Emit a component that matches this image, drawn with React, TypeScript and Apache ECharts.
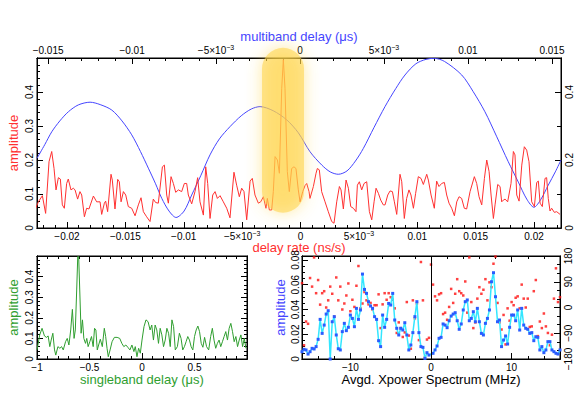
import React, { useEffect, useRef } from 'react';
import * as echarts from 'echarts';

// ---------- data ----------
// delay rate (ns/s) vs amplitude  (red, top panel)
const rateAmp: [number, number][] = [
  [-0.02274, 0.053], [-0.02245, 0.077], [-0.02211, 0.095], [-0.02183, 0.043], [-0.02154, 0.195], [-0.02131, 0.225],
  [-0.02111, 0.175], [-0.02094, 0.112], [-0.02074, 0.148], [-0.02057, 0.144], [-0.0204, 0.068], [-0.02023, 0.058],
  [-0.02003, 0.131], [-0.01989, 0.144], [-0.01966, 0.112], [-0.01946, 0.117], [-0.01931, 0.112], [-0.01909, 0.085],
  [-0.01889, 0.107], [-0.01874, 0.097], [-0.01851, 0.033], [-0.01832, 0.058], [-0.01812, 0.056], [-0.01774, 0.094],
  [-0.01746, 0.077], [-0.01717, 0.077], [-0.01703, 0.04], [-0.0168, 0.073], [-0.01669, 0.079], [-0.01652, 0.048],
  [-0.01623, 0.158], [-0.01612, 0.141], [-0.01589, 0.056], [-0.01566, 0.143], [-0.01552, 0.136], [-0.01537, 0.077],
  [-0.01517, 0.107], [-0.01497, 0.097], [-0.01475, 0.063], [-0.01446, 0.058], [-0.01417, 0.036], [-0.01389, 0.068],
  [-0.01366, 0.089], [-0.01346, 0.048], [-0.01318, 0.033], [-0.01289, 0.019], [-0.01261, 0.085], [-0.01241, 0.075],
  [-0.01218, 0.073], [-0.01183, 0.18], [-0.01166, 0.185], [-0.01146, 0.097], [-0.01132, 0.073], [-0.01109, 0.151],
  [-0.01089, 0.131], [-0.01069, 0.105], [-0.01046, 0.112], [-0.01018, 0.107], [-0.00995, 0.131], [-0.00975, 0.131],
  [-0.00961, 0.097], [-0.00932, 0.071], [-0.00904, 0.107], [-0.00881, 0.148], [-0.00861, 0.077], [-0.00832, 0.038],
  [-0.00812, 0.18], [-0.00795, 0.131], [-0.00775, 0.028], [-0.00752, 0.097], [-0.00732, 0.107], [-0.00712, 0.087],
  [-0.00689, 0.095], [-0.00661, 0.077], [-0.00632, 0.058], [-0.00604, 0.03], [-0.0057, 0.164], [-0.00547, 0.126],
  [-0.00524, 0.092], [-0.00504, 0.117], [-0.00484, 0.107], [-0.00461, 0.024], [-0.00432, 0.138], [-0.00413, 0.146],
  [-0.0039, 0.097], [-0.00361, 0.073], [-0.00341, 0.077], [-0.00318, 0.092], [-0.00296, 0.058], [-0.00284, 0.087],
  [-0.00267, 0.053], [-0.00247, 0.053], [-0.00233, 0.107], [-0.00218, 0.21], [-0.00198, 0.2], [-0.00181, 0.161],
  [-0.00161, 0.411], [-0.00147, 0.495], [-0.00133, 0.411], [-0.00113, 0.166], [-0.00096, 0.107], [-0.00076, 0.175],
  [-0.00056, 0.18], [-0.00039, 0.175], [-0.00019, 0.112], [-0.00004, 0.077], [0.00019, 0.107], [0.00039, 0.125],
  [0.00053, 0.131], [0.00073, 0.107], [0.00081, 0.087], [0.0011, 0.122], [0.00133, 0.161], [0.00144, 0.175],
  [0.00161, 0.171], [0.00181, 0.107], [0.0021, 0.077], [0.00238, 0.048], [0.00267, 0.019], [0.00287, 0.014],
  [0.0031, 0.077], [0.00333, 0.122], [0.00347, 0.112], [0.00367, 0.056], [0.0039, 0.141], [0.0041, 0.117],
  [0.0043, 0.063], [0.00453, 0.058], [0.00475, 0.048], [0.00487, 0.126], [0.00504, 0.136], [0.00524, 0.112],
  [0.00544, 0.131], [0.00567, 0.136], [0.0059, 0.048], [0.0061, 0.024], [0.0063, 0.077], [0.00647, 0.117],
  [0.00667, 0.102], [0.00687, 0.082], [0.00709, 0.068], [0.00724, 0.068], [0.00747, 0.097], [0.00767, 0.109],
  [0.00787, 0.107], [0.00804, 0.077], [0.00824, 0.04], [0.00852, 0.158], [0.00867, 0.136], [0.00889, 0.028],
  [0.00909, 0.087], [0.00929, 0.112], [0.00946, 0.097], [0.00967, 0.058], [0.00986, 0.102], [0.01009, 0.151],
  [0.01032, 0.146], [0.01052, 0.128], [0.01081, 0.158], [0.01095, 0.141], [0.01118, 0.097], [0.01146, 0.058],
  [0.01166, 0.138], [0.01186, 0.122], [0.01209, 0.131], [0.01232, 0.134], [0.01252, 0.097], [0.01272, 0.073],
  [0.01295, 0.058], [0.01318, 0.036], [0.01338, 0.077], [0.01358, 0.092], [0.0138, 0.087], [0.01403, 0.058],
  [0.01423, 0.056], [0.01452, 0.107], [0.01489, 0.151], [0.01509, 0.131], [0.01529, 0.092], [0.01552, 0.068],
  [0.01575, 0.146], [0.01595, 0.2], [0.01615, 0.166], [0.01632, 0.097], [0.01652, 0.028], [0.01666, 0.068],
  [0.01689, 0.128], [0.01709, 0.122], [0.01723, 0.077], [0.01737, 0.082], [0.01752, 0.085], [0.01774, 0.077],
  [0.01803, 0.131], [0.01823, 0.225], [0.01837, 0.215], [0.01852, 0.097], [0.01872, 0.079], [0.01895, 0.185],
  [0.01917, 0.239], [0.01937, 0.229], [0.01957, 0.195], [0.0198, 0.077], [0.02003, 0.063], [0.02023, 0.134],
  [0.02037, 0.138], [0.02052, 0.073], [0.02071, 0.063], [0.02094, 0.146], [0.02108, 0.148], [0.02122, 0.087],
  [0.02137, 0.05], [0.02151, 0.058], [0.02174, 0.046], [0.02194, 0.048], [0.02223, 0.04],
];

// multiband delay (µs) vs amplitude (blue, top panel)
const mbdAmp: [number, number][] = [
  [-0.01566, 0.205], [-0.0152, 0.245], [-0.01478, 0.283], [-0.0143, 0.315], [-0.01379, 0.342], [-0.0132, 0.362],
  [-0.0125, 0.37], [-0.0119, 0.363], [-0.01121, 0.347], [-0.0106, 0.315], [-0.01002, 0.274], [-0.0095, 0.225],
  [-0.00903, 0.176], [-0.0086, 0.13], [-0.00823, 0.087], [-0.0078, 0.05], [-0.00738, 0.031], [-0.0069, 0.05],
  [-0.00645, 0.097], [-0.0059, 0.155], [-0.00536, 0.215], [-0.0048, 0.262], [-0.00417, 0.298], [-0.0035, 0.33],
  [-0.0029, 0.35], [-0.00238, 0.357], [-0.0016, 0.345], [-0.00079, 0.318], [-0.0001, 0.28], [0.0006, 0.224],
  [0.0013, 0.185], [0.0018, 0.165], [0.00228, 0.158], [0.0028, 0.168], [0.0033, 0.197], [0.00377, 0.234],
  [0.0044, 0.295], [0.00506, 0.357], [0.0057, 0.41], [0.00625, 0.45], [0.0069, 0.483], [0.0075, 0.496],
  [0.00799, 0.499], [0.0086, 0.49], [0.00963, 0.45], [0.0103, 0.402], [0.01101, 0.342], [0.0117, 0.27],
  [0.0124, 0.195], [0.013, 0.135], [0.0135, 0.085], [0.01393, 0.061], [0.01435, 0.085], [0.01478, 0.126],
  [0.0152, 0.165], [0.01554, 0.2],
];

// singleband delay (µs) vs amplitude (green, lower left)
const sbdAmp: [number, number][] = [
  [-1.0, 0.044], [-0.974, 0.117], [-0.952, 0.149], [-0.929, 0.112], [-0.91, 0.105], [-0.894, 0.112], [-0.878, 0.06],
  [-0.865, 0.092], [-0.849, 0.125], [-0.833, 0.044], [-0.821, 0.019], [-0.801, 0.06], [-0.782, 0.052], [-0.766, 0.06],
  [-0.75, 0.044], [-0.728, 0.084], [-0.712, 0.1], [-0.696, 0.068], [-0.679, 0.141], [-0.663, 0.241], [-0.647, 0.1],
  [-0.635, 0.141], [-0.622, 0.335], [-0.612, 0.497], [-0.603, 0.497], [-0.593, 0.335], [-0.58, 0.125], [-0.567, 0.19],
  [-0.554, 0.1], [-0.538, 0.076], [-0.526, 0.1], [-0.513, 0.06], [-0.497, 0.084], [-0.481, 0.109], [-0.465, 0.06],
  [-0.452, 0.149], [-0.439, 0.141], [-0.426, 0.044], [-0.413, 0.068], [-0.397, 0.096], [-0.378, 0.06], [-0.359, 0.149],
  [-0.346, 0.109], [-0.333, 0.052], [-0.321, 0.011], [-0.304, 0.044], [-0.285, 0.084], [-0.263, 0.105], [-0.237, 0.105],
  [-0.212, 0.1], [-0.192, 0.076], [-0.173, 0.06], [-0.154, 0.068], [-0.135, 0.057], [-0.115, 0.044], [-0.096, 0.068],
  [-0.077, 0.036], [-0.064, 0.06], [-0.048, 0.011], [-0.032, 0.052], [-0.016, 0.028], [0.0, 0.092], [0.019, 0.157],
  [0.038, 0.19], [0.058, 0.181], [0.077, 0.141], [0.093, 0.165], [0.109, 0.092], [0.125, 0.165], [0.141, 0.141],
  [0.157, 0.076], [0.173, 0.149], [0.189, 0.117], [0.205, 0.06], [0.221, 0.092], [0.237, 0.149], [0.253, 0.125],
  [0.269, 0.06], [0.285, 0.19], [0.301, 0.157], [0.317, 0.044], [0.337, 0.06], [0.356, 0.125], [0.372, 0.1],
  [0.388, 0.044], [0.404, 0.06], [0.42, 0.084], [0.436, 0.109], [0.452, 0.092], [0.468, 0.06], [0.484, 0.044],
  [0.5, 0.109], [0.516, 0.141], [0.532, 0.16], [0.548, 0.133], [0.564, 0.076], [0.58, 0.057], [0.596, 0.105],
  [0.615, 0.06], [0.635, 0.044], [0.654, 0.109], [0.67, 0.149], [0.686, 0.092], [0.702, 0.052], [0.718, 0.076],
  [0.734, 0.092], [0.75, 0.06], [0.766, 0.084], [0.782, 0.109], [0.798, 0.133], [0.814, 0.092], [0.83, 0.149],
  [0.846, 0.173], [0.862, 0.133], [0.878, 0.084], [0.894, 0.109], [0.91, 0.06], [0.926, 0.092], [0.942, 0.117],
  [0.958, 0.06], [0.974, 0.1], [0.99, 0.052],
];

// averaged cross-power spectrum: frequency (MHz) vs amplitude (cyan/blue)
const specAmp: [number, number][] = [
  [-16.0, 0.0059], [-15.75, 0.0078], [-15.5, 0.0073], [-15.25, 0.004], [-15.0, 0.0059], [-14.75, 0.0086], [-14.5, 0.0081],
  [-14.25, 0.01], [-14.0, 0.0159], [-13.75, 0.032], [-13.5, 0.0207], [-13.25, 0.0274], [-13.0, 0.0363], [-12.75, 0.039],
  [-12.5, 0.0], [-12.25, 0.0301], [-12.0, 0.0342], [-11.75, 0.0194], [-11.5, 0.0083], [-11.25, 0.0073], [-11.0, 0.0221],
  [-10.75, 0.0288], [-10.5, 0.0229], [-10.25, 0.0256], [-10.0, 0.0355], [-9.75, 0.0328], [-9.5, 0.0261], [-9.25, 0.0409],
  [-9.0, 0.032], [-8.75, 0.0396], [-8.5, 0.0686], [-8.25, 0.0562], [-8.0, 0.053], [-7.75, 0.0463], [-7.5, 0.0428],
  [-7.25, 0.0409], [-7.0, 0.0342], [-6.75, 0.032], [-6.5, 0.0148], [-6.25, 0.01], [-6.0, 0.0355], [-5.75, 0.0256],
  [-5.5, 0.032], [-5.25, 0.0449], [-5.0, 0.0436], [-4.75, 0.053], [-4.5, 0.0315], [-4.25, 0.0248], [-4.0, 0.0194],
  [-3.75, 0.0248], [-3.5, 0.0234], [-3.25, 0.0293], [-3.0, 0.0194], [-2.75, 0.0073], [-2.5, 0.0113], [-2.25, 0.0213],
  [-2.0, 0.0342], [-1.75, 0.0463], [-1.5, 0.0213], [-1.25, 0.01], [-1.0, 0.0094], [-0.75, 0.0005], [-0.5, 0.0051],
  [-0.25, 0.0032],
  [0.25, 0.0046], [0.5, 0.0073], [0.75, 0.0105], [1.0, 0.0167], [1.25, 0.0175], [1.5, 0.0283], [1.75, 0.0274],
  [2.0, 0.0253], [2.25, 0.0309], [2.5, 0.0347], [2.75, 0.0363], [3.0, 0.0374], [3.25, 0.0309], [3.5, 0.024],
  [3.75, 0.0283], [4.0, 0.0396], [4.25, 0.0463], [4.5, 0.0477], [4.75, 0.0309], [5.0, 0.0328], [5.25, 0.0382],
  [5.5, 0.0301], [5.75, 0.0409], [6.0, 0.0301], [6.25, 0.0207], [6.5, 0.0194], [6.75, 0.0288], [7.0, 0.0328],
  [7.25, 0.0396], [7.5, 0.0624], [7.75, 0.0697], [8.0, 0.0503], [8.25, 0.0301], [8.5, 0.0315], [8.75, 0.01],
  [9.0, 0.0153], [9.25, 0.0186], [9.5, 0.0121], [9.75, 0.0256], [10.0, 0.0355], [10.25, 0.0355], [10.5, 0.0309],
  [10.75, 0.0396], [11.0, 0.0234], [11.25, 0.0409], [11.5, 0.0274], [11.75, 0.0248], [12.0, 0.024], [12.25, 0.0207],
  [12.5, 0.0213], [12.75, 0.0148], [13.0, 0.018], [13.25, 0.0175], [13.5, 0.0073], [13.75, 0.01], [14.0, 0.0051],
  [14.25, 0.0073], [14.5, 0.014], [14.75, 0.014], [15.0, 0.0073], [15.25, 0.0059], [15.5, 0.0046], [15.75, 0.004],
  [16.0, 0.0073],
];

// cross-power phase (degrees), red dots
const specPhase: [number, number][] = [
  [-16.0, 85], [-15.75, -132], [-15.5, -49], [-15.25, -57], [-15.0, 103], [-14.75, 73], [-14.5, 175], [-14.25, 50],
  [-14.0, 96], [-13.75, 10], [-13.5, 50], [-13.25, 57], [-13.0, 0], [-12.75, 25], [-12.5, 73], [-12.25, 48],
  [-12.0, -32], [-11.75, 105], [-11.5, 25], [-11.25, 73], [-11.0, -7], [-10.75, 14], [-10.5, 42], [-10.25, 84],
  [-10.0, -13], [-9.75, 27], [-9.5, 2], [-9.25, 76], [-9.0, 145], [-8.75, -3], [-8.5, 14], [-8.25, 54], [-8.0, 25],
  [-7.75, 11], [-7.5, 16], [-7.25, -7], [-7.0, 8], [-6.75, 8], [-6.5, 46], [-6.25, -72], [-6.0, 11], [-5.75, 50],
  [-5.5, 27], [-5.25, 50], [-5.0, 36], [-4.75, 27], [-4.5, -3], [-4.25, -89], [-4.0, -52], [-3.75, -72], [-3.5, -103],
  [-3.25, -87], [-3.0, 19], [-2.75, -98], [-2.5, -144], [-2.25, 25], [-2.0, -38], [-1.75, 14], [-1.5, -114],
  [-1.25, 159], [-1.0, 25], [-0.75, -174], [-0.5, -112], [-0.25, -106], [0.0, 150],
  [0.25, 80], [0.5, 39], [0.75, 25], [1.0, 46], [1.25, 50], [1.5, -23], [1.75, -18], [2.0, -43], [2.25, 2], [2.5, 65],
  [2.75, 16], [3.0, 48], [3.25, 99], [3.5, 57], [3.75, 50], [4.0, 42], [4.25, 91], [4.5, -18], [4.75, 175], [5.0, 19],
  [5.25, -72], [5.5, -52], [5.75, 31], [6.0, 71], [6.25, 48], [6.5, 62], [6.75, 99], [7.0, 25], [7.25, 88], [7.5, 71],
  [7.75, 153], [8.0, 178], [8.25, 16], [8.5, -52], [8.75, -77], [9.0, -26], [9.25, -129], [9.5, -3], [9.75, -46],
  [10.0, 19], [10.25, 8], [10.5, 34], [10.75, 39], [11.0, -3], [11.25, 80], [11.5, 31], [11.75, 0], [12.0, 31],
  [12.25, -68], [12.5, -66], [12.75, 57], [13.0, 96], [13.25, -100], [13.5, -49], [13.75, -72], [14.0, -21],
  [14.25, -66], [14.5, -89], [14.75, -132], [15.0, -95], [15.25, 31], [15.5, 137], [15.75, 19], [16.0, 36],
];

// axis ranges
const RATE_RANGE = [-0.02257, 0.02231];
const MBD_RANGE = [-0.01566, 0.01554];
const AMP_RANGE = [0, 0.5];
const SBD_RANGE = [-1, 1];
const FREQ_RANGE = [-16, 16];
const SPEC_AMP_RANGE = [0, 0.0832];
const PHASE_RANGE = [-180, 180];
// highlighted region around the fringe peak (delay rate, amplitude)
const HIGHLIGHT_RATE = [-0.0033, 0.0003];
const HIGHLIGHT_AMP = [0.045, 0.53];

// ---------- styling ----------
const FONT = 'Liberation Sans, Arial, Helvetica, sans-serif';
const RED = '#ff3030';
const BLUE = '#4545ff';
const GREEN = '#2f9e2f';
const CYAN = '#33e6ff';
const MARK_BLUE = '#2a5cff';

const MINUS = '\u2212';

function plainFmt(step: number, decimals: number) {
  return (v: number) => {
    const k = v / step;
    if (Math.abs(k - Math.round(k)) > 1e-6) return '';
    const n = Math.round(k) * step;
    let s = Math.abs(n).toFixed(decimals);
    if (decimals > 0) s = s.replace(/0+$/, '').replace(/\.$/, '');
    if (Math.abs(n) < 1e-12) s = '0';
    return (n < -1e-12 ? MINUS : '') + s;
  };
}

function sciFmt(v: number) {
  const k = v / 0.005;
  if (Math.abs(k - Math.round(k)) > 1e-6) return '';
  const n = Math.round(k);
  if (n === 0) return '{m|0}';
  const sign = n < 0 ? MINUS : '';
  if (Math.abs(n) === 1) return `{m|${sign}5×10}{s|${MINUS}3}`;
  return `{m|${sign}${String(+(Math.abs(n) * 0.005).toFixed(3))}}`;
}

const sciRich = {
  m: { fontSize: 10, fontFamily: FONT, color: '#000', lineHeight: 12 },
  s: { fontSize: 7, fontFamily: FONT, color: '#000', lineHeight: 5, verticalAlign: 'top' },
};

type AxOpt = {
  grid: number; pos: string; range: number[]; step: number; len: number;
  label?: any; name?: string; nameColor?: string; nameGap?: number;
};

function ax(o: AxOpt): any {
  const a: any = {
    type: 'value', gridIndex: o.grid, position: o.pos, min: o.range[0], max: o.range[1],
    minInterval: o.step, maxInterval: o.step,
    splitNumber: Math.max(1, Math.round((o.range[1] - o.range[0]) / o.step)),
    axisLine: { show: true, onZero: false, lineStyle: { color: '#000', width: 1 } },
    axisTick: { show: true, inside: true, length: o.len, lineStyle: { color: '#000', width: 1 } },
    minorTick: { show: false },
    splitLine: { show: false },
    splitArea: { show: false },
    axisLabel: o.label
      ? { show: true, color: '#000', fontSize: 10, fontFamily: FONT, margin: 3, hideOverlap: false, ...o.label }
      : { show: false },
    silent: true,
    nameMoveOverlap: false,
  };
  if (o.name) {
    a.name = o.name;
    a.nameLocation = 'middle';
    a.nameGap = o.nameGap;
    a.nameTextStyle = { color: o.nameColor, fontSize: 13, fontFamily: FONT };
  }
  return a;
}

const xAxes = [
  // grid 0 (top panel)
  ax({ grid: 0, pos: 'bottom', range: RATE_RANGE, step: 0.005, len: 6,
    label: { formatter: sciFmt, rich: sciRich, margin: 2 },
    name: 'delay rate (ns/s)', nameColor: RED, nameGap: 13 }),
  ax({ grid: 0, pos: 'bottom', range: RATE_RANGE, step: 0.001, len: 3 }),
  ax({ grid: 0, pos: 'top', range: MBD_RANGE, step: 0.005, len: 6,
    label: { formatter: sciFmt, rich: sciRich, margin: 2 },
    name: 'multiband delay (μs)', nameColor: BLUE, nameGap: 15 }),
  ax({ grid: 0, pos: 'top', range: MBD_RANGE, step: 0.001, len: 3 }),
  // grid 1 (lower left)
  ax({ grid: 1, pos: 'bottom', range: SBD_RANGE, step: 0.5, len: 6,
    label: { formatter: plainFmt(0.5, 1), showMaxLabel: false },
    name: 'singleband delay (μs)', nameColor: GREEN, nameGap: 14 }),
  ax({ grid: 1, pos: 'bottom', range: SBD_RANGE, step: 0.1, len: 3 }),
  ax({ grid: 1, pos: 'top', range: SBD_RANGE, step: 0.5, len: 6 }),
  ax({ grid: 1, pos: 'top', range: SBD_RANGE, step: 0.1, len: 3 }),
  // grid 2 (lower right)
  ax({ grid: 2, pos: 'bottom', range: FREQ_RANGE, step: 10, len: 6,
    label: { formatter: plainFmt(10, 0) },
    name: 'Avgd. Xpower Spectrum (MHz)', nameColor: '#000', nameGap: 14 }),
  ax({ grid: 2, pos: 'bottom', range: FREQ_RANGE, step: 2, len: 3 }),
  ax({ grid: 2, pos: 'top', range: FREQ_RANGE, step: 10, len: 6 }),
  ax({ grid: 2, pos: 'top', range: FREQ_RANGE, step: 2, len: 3 }),
];

const yAxes = [
  // grid 0
  ax({ grid: 0, pos: 'left', range: AMP_RANGE, step: 0.1, len: 6,
    label: { formatter: plainFmt(0.1, 1), rotate: 90, showMaxLabel: false },
    name: 'amplitude', nameColor: RED, nameGap: 17 }),
  ax({ grid: 0, pos: 'left', range: AMP_RANGE, step: 0.02, len: 3 }),
  ax({ grid: 0, pos: 'right', range: AMP_RANGE, step: 0.2, len: 6,
    label: { formatter: plainFmt(0.2, 1), rotate: 90 } }),
  ax({ grid: 0, pos: 'right', range: AMP_RANGE, step: 0.1, len: 4 }),
  // grid 1
  ax({ grid: 1, pos: 'left', range: AMP_RANGE, step: 0.1, len: 6,
    label: { formatter: plainFmt(0.1, 1), rotate: 90, showMaxLabel: false },
    name: 'amplitude', nameColor: GREEN, nameGap: 17 }),
  ax({ grid: 1, pos: 'left', range: AMP_RANGE, step: 0.02, len: 3 }),
  ax({ grid: 1, pos: 'right', range: AMP_RANGE, step: 0.1, len: 6 }),
  ax({ grid: 1, pos: 'right', range: AMP_RANGE, step: 0.02, len: 3 }),
  // grid 2
  ax({ grid: 2, pos: 'left', range: SPEC_AMP_RANGE, step: 0.02, len: 6,
    label: { formatter: plainFmt(0.02, 2), rotate: 90, margin: 2 },
    name: 'amplitude', nameColor: BLUE, nameGap: 15 }),
  ax({ grid: 2, pos: 'left', range: SPEC_AMP_RANGE, step: 0.005, len: 3 }),
  ax({ grid: 2, pos: 'right', range: PHASE_RANGE, step: 90, len: 6,
    label: { formatter: plainFmt(90, 0), rotate: 90 } }),
  ax({ grid: 2, pos: 'right', range: PHASE_RANGE, step: 30, len: 3 }),
];

const option: any = {
  animation: false,
  backgroundColor: '#fff',
  textStyle: { fontFamily: FONT },
  grid: [
    { left: 37, top: 58, width: 524, height: 170, show: true, borderColor: '#000', borderWidth: 1, outerBoundsMode: 'none' },
    { left: 37, top: 256, width: 210, height: 103, show: true, borderColor: '#000', borderWidth: 1, outerBoundsMode: 'none' },
    { left: 302, top: 256, width: 258, height: 103, show: true, borderColor: '#000', borderWidth: 1, outerBoundsMode: 'none' },
  ],
  xAxis: xAxes,
  yAxis: yAxes,
  series: [
    {
      type: 'line', xAxisIndex: 0, yAxisIndex: 0, data: rateAmp, symbol: 'none', silent: true, z: 3,
      lineStyle: { color: RED, width: 1 },
    },
    {
      type: 'line', xAxisIndex: 2, yAxisIndex: 0, data: mbdAmp, symbol: 'none', smooth: 0.3, silent: true, z: 2,
      lineStyle: { color: BLUE, width: 1 },
    },
    {
      type: 'line', xAxisIndex: 4, yAxisIndex: 4, data: sbdAmp, symbol: 'none', silent: true,
      lineStyle: { color: GREEN, width: 1 },
    },
    {
      type: 'line', xAxisIndex: 8, yAxisIndex: 8, data: specAmp, symbol: 'rect', symbolSize: 3,
      showSymbol: true, showAllSymbol: true, silent: true,
      lineStyle: { color: CYAN, width: 1.5 }, itemStyle: { color: MARK_BLUE },
      markLine: {
        silent: true, symbol: 'none', label: { show: false },
        lineStyle: { color: '#000', type: 'solid', width: 1 },
        data: [{ xAxis: 0 }],
      },
    },
    {
      type: 'scatter', xAxisIndex: 8, yAxisIndex: 10, data: specPhase, symbol: 'rect', symbolSize: 2.5, silent: true,
      itemStyle: { color: '#ff1010' },
    },
  ],
};

export default function App() {
  const ref = useRef<HTMLDivElement>(null);
  useEffect(() => {
    const chart = echarts.init(ref.current!, null, { renderer: 'svg' });
    chart.setOption(option);
    const a = chart.convertToPixel({ seriesIndex: 0 }, [HIGHLIGHT_RATE[0], HIGHLIGHT_AMP[1]]) as number[];
    const b = chart.convertToPixel({ seriesIndex: 0 }, [HIGHLIGHT_RATE[1], HIGHLIGHT_AMP[0]]) as number[];
    if (a && b) {
      const w = b[0] - a[0];
      chart.setOption({
        graphic: [{
          type: 'rect', z: 100, silent: true,
          shape: { x: a[0], y: a[1], width: w, height: b[1] - a[1], r: w / 2 },
          style: { fill: 'rgba(255,212,70,0.55)', shadowBlur: 16, shadowColor: 'rgba(255,212,70,0.9)' },
        }],
      });
    }
    return () => chart.dispose();
  }, []);
  return <div ref={ref} style={{ position: 'absolute', left: 0, top: 0, width: 583, height: 393 }} />;
}
